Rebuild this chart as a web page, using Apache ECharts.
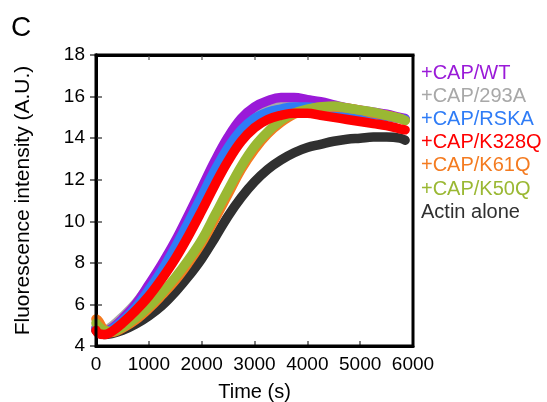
<!DOCTYPE html>
<html>
<head>
<meta charset="utf-8">
<script src="https://cdn.jsdelivr.net/npm/echarts@6/dist/echarts.min.js"></script>
<style>
html,body{margin:0;padding:0;background:#fff;}
#c{width:547px;height:402px;}
</style>
</head>
<body>
<div id="c"></div>
<script>
var time = [0, 50, 150, 300, 500, 750, 1000, 1250, 1500, 1750, 2000, 2250, 2500, 2750, 3000, 3250, 3500, 3750, 4000, 4250, 4500, 4750, 5000, 5250, 5500, 5750, 5850];
var capWT   = [4.85,4.75,4.70,4.85,5.30,6.00,6.95,7.95,9.05,10.30,11.60,12.90,14.05,14.95,15.50,15.80,15.95,15.95,15.85,15.75,15.60,15.45,15.35,15.25,15.15,15.00,14.95];
var cap293A = [4.90,4.80,4.75,4.95,5.40,6.05,6.90,7.85,8.90,10.10,11.35,12.60,13.70,14.55,15.10,15.40,15.55,15.60,15.55,15.50,15.40,15.30,15.20,15.15,15.05,14.95,14.90];
var capRSKA = [4.80,4.70,4.65,4.80,5.20,5.85,6.70,7.65,8.75,9.95,11.20,12.45,13.55,14.40,14.95,15.25,15.40,15.50,15.50,15.45,15.40,15.30,15.20,15.15,15.05,14.95,14.90];
var capK328Q= [4.75,4.60,4.55,4.70,5.10,5.70,6.40,7.25,8.20,9.30,10.50,11.75,12.90,13.85,14.50,14.90,15.10,15.20,15.20,15.10,15.00,14.90,14.80,14.70,14.60,14.45,14.40];
var capK61Q = [5.30,5.20,4.80,4.65,4.85,5.25,5.80,6.45,7.15,8.00,8.95,10.10,11.30,12.50,13.45,14.20,14.75,15.15,15.35,15.50,15.50,15.45,15.35,15.20,15.10,14.95,14.85];
var capK50Q = [5.10,4.95,4.75,4.70,4.90,5.35,5.90,6.55,7.30,8.15,9.10,10.30,11.50,12.65,13.60,14.30,14.85,15.20,15.40,15.50,15.55,15.45,15.35,15.25,15.10,14.95,14.85];
var actin   = [4.75,4.65,4.55,4.60,4.75,5.05,5.45,5.95,6.60,7.35,8.20,9.20,10.25,11.15,11.90,12.50,12.95,13.30,13.55,13.70,13.85,13.95,14.00,14.05,14.05,14.00,13.90];

var names  = ['+CAP/WT', '+CAP/293A', '+CAP/RSKA', '+CAP/K328Q', '+CAP/K61Q', '+CAP/K50Q', 'Actin alone'];
var colors = ['#9a1ad8', '#a8a8a8', '#2f7cf6', '#ff0000', '#f47b20', '#9ab833', '#303030'];
var values = [capWT, cap293A, capRSKA, capK328Q, capK61Q, capK50Q, actin];
var drawOrder = [6, 1, 0, 2, 4, 5, 3];

var FONT = '"Liberation Sans", Arial, sans-serif';

function pairs(v) { return time.map(function (t, i) { return [t, v[i]]; }); }

var series = drawOrder.map(function (k, z) {
  return {
    name: names[k], type: 'line', data: pairs(values[k]),
    smooth: 0.4, showSymbol: false, symbol: 'none', z: 2 + z,
    lineStyle: { color: colors[k], width: 9.5, cap: 'round', join: 'round' },
    itemStyle: { color: colors[k] }, silent: true
  };
});

var chart = echarts.init(document.getElementById('c'), null, { renderer: 'canvas' });
chart.setOption({
  backgroundColor: '#fff',
  animation: false,
  grid: { left: 96, right: 134, top: 55, bottom: 56, containLabel: false, outerBoundsMode: 'none',
          show: true, borderColor: '#000', borderWidth: 3, z: 20 },
  title: { text: 'C', left: 6, top: 9, textStyle: { fontFamily: FONT, fontSize: 28, fontWeight: 'normal', color: '#000' } },
  legend: {
    orient: 'vertical', left: 416, top: 63, padding: 0, icon: 'none', itemWidth: 0, itemHeight: 14, itemGap: 3.2,
    selectedMode: false,
    data: names.map(function (n, i) { return { name: n, textStyle: { color: colors[i] } }; }),
    textStyle: { fontFamily: FONT, fontSize: 20, padding: [0, 0, 0, 0] }
  },
  xAxis: [{
    type: 'value', min: 0, max: 6000, interval: 1000,
    name: 'Time (s)', nameLocation: 'middle', nameGap: 36,
    nameTextStyle: { fontFamily: FONT, fontSize: 20, color: '#000' },
    axisLine: { show: true, lineStyle: { color: '#000', width: 3 } },
    axisTick: { show: true, inside: true, length: 5, lineStyle: { color: '#555', width: 1.5 } },
    axisLabel: { fontFamily: FONT, fontSize: 19, color: '#000', margin: 9, formatter: function (v) { return String(v); } },
    splitLine: { show: false }
  }, {
    type: 'value', position: 'top', min: 0, max: 6000, interval: 1000,
    axisLine: { show: true, lineStyle: { color: '#000', width: 3 } },
    axisTick: { show: true, inside: true, length: 5, lineStyle: { color: '#777', width: 1.5 } },
    axisLabel: { show: false }, splitLine: { show: false }
  }],
  yAxis: [{
    type: 'value', min: 4, max: 18, interval: 2,
    name: 'Fluorescence intensity (A.U.)', nameLocation: 'middle', nameGap: 62, nameRotate: 90,
    nameTextStyle: { fontFamily: FONT, fontSize: 21, color: '#000' },
    axisLine: { show: true, lineStyle: { color: '#000', width: 3 } },
    axisTick: { show: true, inside: true, length: 6, lineStyle: { color: '#555', width: 1.5 } },
    axisLabel: { fontFamily: FONT, fontSize: 19, color: '#000', margin: 11 },
    splitLine: { show: false }
  }, {
    type: 'value', position: 'right', min: 4, max: 18, interval: 2,
    axisLine: { show: true, lineStyle: { color: '#000', width: 3 } },
    axisTick: { show: true, inside: true, length: 6, lineStyle: { color: '#444', width: 1.5 } },
    axisLabel: { show: false }, splitLine: { show: false }
  }],
  series: series
});
</script>
</body>
</html>
